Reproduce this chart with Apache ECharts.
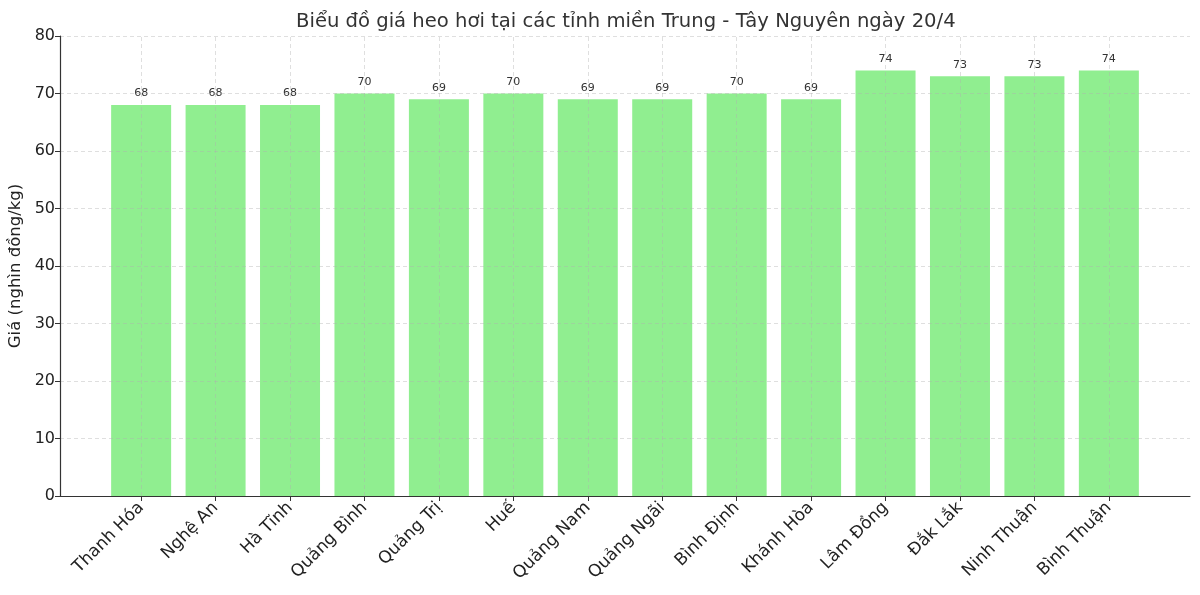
<!DOCTYPE html>
<html>
<head>
<meta charset="utf-8">
<script src="https://cdn.jsdelivr.net/npm/echarts@6/dist/echarts.min.js"></script>
<style>html,body{margin:0;padding:0;background:#fff;}#c{width:1200px;height:595px;}</style>
</head>
<body>
<div id="c"></div>
<script>
const titleText = 'Biểu đồ giá heo hơi tại các tỉnh miền Trung - Tây Nguyên ngày 20/4';
const yAxisTitle = 'Giá (nghìn đồng/kg)';
const categories = ['Thanh Hóa','Nghệ An','Hà Tĩnh','Quảng Bình','Quảng Trị','Huế','Quảng Nam','Quảng Ngãi','Bình Định','Khánh Hòa','Lâm Đồng','Đắk Lắk','Ninh Thuận','Bình Thuận'];
const prices = [68,68,68,70,69,70,69,69,70,69,74,73,73,74];
const yTicks = [0,10,20,30,40,50,60,70,80];

const idx = categories.map((c,i)=>i);
const font = 'DejaVu Sans';
const gridStyle = {color:'rgba(176,176,176,0.5)', type:[4,3], width:0.8};
const markData = idx.map(i=>({xAxis:i})).concat(yTicks.filter(v=>v>0).map(v=>({yAxis:v})));

const chart = echarts.init(document.getElementById('c'), null, {renderer:'canvas'});
chart.setOption({
  animation:false,
  textStyle:{fontFamily:font},
  title:{text:titleText, left:291, top:7, textStyle:{fontFamily:font, fontSize:19.6, fontWeight:'normal', color:'#333'}},
  grid:{left:60, right:10, top:36, bottom:99, containLabel:false, outerBoundsMode:'none'},
  xAxis:{
    type:'value', min:-1.09, max:14.09,
    axisLine:{show:true, onZero:false, lineStyle:{color:'#333', width:1.2}},
    axisTick:{show:true, customValues:idx, length:5, inside:false, lineStyle:{color:'#333'}},
    axisLabel:{customValues:idx, rotate:45, margin:9, fontSize:17, color:'#222', fontFamily:font,
      formatter:v=>categories[Math.round(v)]},
    splitLine:{show:false},
    z:10
  },
  yAxis:{
    type:'value', min:0, max:80, interval:10,
    name:yAxisTitle, nameLocation:'middle', nameGap:34,
    nameTextStyle:{fontSize:16.5, color:'#222', fontFamily:font},
    axisLine:{show:true, onZero:false, lineStyle:{color:'#333', width:1.2}},
    axisTick:{show:true, length:5, lineStyle:{color:'#333'}},
    axisLabel:{fontSize:16, color:'#222', margin:5, fontFamily:font},
    splitLine:{show:false},
    z:10
  },
  series:[{
    type:'bar',
    data:prices.map((v,i)=>[i,v]),
    barWidth:60,
    itemStyle:{color:'#90EE90'},
    label:{show:true, position:'top', distance:6, fontSize:11, color:'#333', fontFamily:font},
    markLine:{silent:true, symbol:['none','none'], label:{show:false}, lineStyle:gridStyle, data:markData, z:5}
  }]
});
</script>
</body>
</html>
